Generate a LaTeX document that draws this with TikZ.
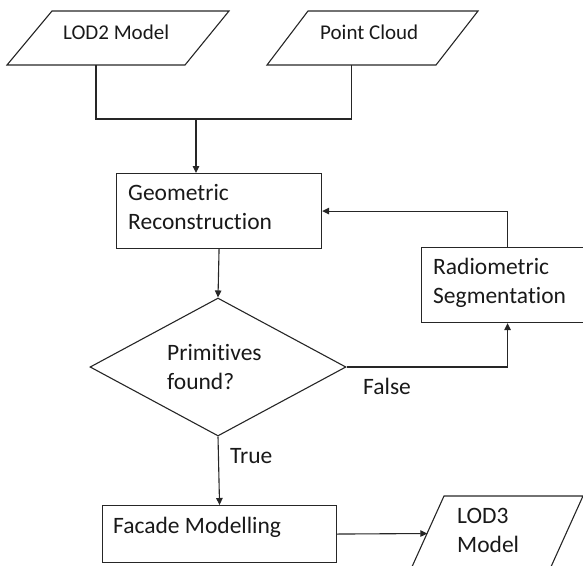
\documentclass[tikz,border=0pt]{standalone}
\usepackage{fontspec}
\setmainfont{Carlito}[Ligatures={NoCommon,NoRequired,NoContextual}]
\usetikzlibrary{arrows.meta,shapes.geometric}
\begin{document}
\begin{tikzpicture}[x=1pt,y=-1pt,
  line/.style={line width=1.1pt, draw=black!85},
  arr/.style={line, -{Triangle[length=7pt,width=6.5pt]}},
  box/.style={line, rectangle, inner sep=0pt, anchor=north west},
  txt/.style={anchor=base west, inner sep=0pt, text=black!90, font=\fontsize{23.5}{29}\selectfont},
  txts/.style={txt, font=\fontsize{21}{26}\selectfont},
]
\useasboundingbox (0,0) rectangle (583,565);
\clip (0,0) rectangle (583,565);
% input parallelograms
\draw[line] (52,11) -- (229,11) -- (185,65) -- (7,65) -- cycle;
\coordinate (l2b) at (96,65);
\draw[line] (308,11) -- (478,11) -- (436,65) -- (267,65) -- cycle;
\coordinate (pcb) at (351.5,65);
\coordinate (j) at (196,119);
% boxes
\node[box, minimum width=205pt, minimum height=75pt] (geo) at (116,173) {};
\node[box, minimum width=172pt, minimum height=75pt] (rad) at (421,247) {};
\node[box, minimum width=234pt, minimum height=57pt] (fac) at (102,505) {};
\node[line, diamond, minimum width=256pt, minimum height=138pt, inner sep=0pt] (dia) at (218,367) {};
% output parallelogram
\draw[line] (444,496) -- (583,496) -- (545,580) -- (406,580) -- cycle;
\coordinate (l3in) at (427.3,533.5);
% texts
\node[txts] (t1) at (63,39) {LOD2 Model};
\node[txts] (t2) at (320,39) {Point Cloud};
\node[txt] (t3) at (128,200) {Geometric};
\node[txt] (t4) at (128,229) {Reconstruction};
\node[txt] (t5) at (433,274) {Radiometric};
\node[txt] (t6) at (433,303) {Segmentation};
\node[txt] (t7) at (167,360) {Primitives};
\node[txt] (t8) at (167,389) {found?};
\node[txt] (t9) at (363,394) {False};
\node[txt] (t10) at (230,463) {True};
\node[txt] (t11) at (113,533) {Facade Modelling};
\node[txt] (t12) at (457,523) {LOD3};
\node[txt] (t13) at (457,552) {Model};
% connectors
\draw[line] (l2b) -- (l2b |- j) -- (pcb |- j) -- (pcb);
\draw[arr] (j) -- (j |- geo.north);
\draw[arr] (geo.south) -- (dia.north);
\draw[arr] (dia.east) -| (rad.south);
\draw[arr] (rad.north) |- (geo.east);
\draw[arr] (dia.south) -- (fac.north);
\draw[arr] (fac.east) -- (l3in);
\end{tikzpicture}
\end{document}
